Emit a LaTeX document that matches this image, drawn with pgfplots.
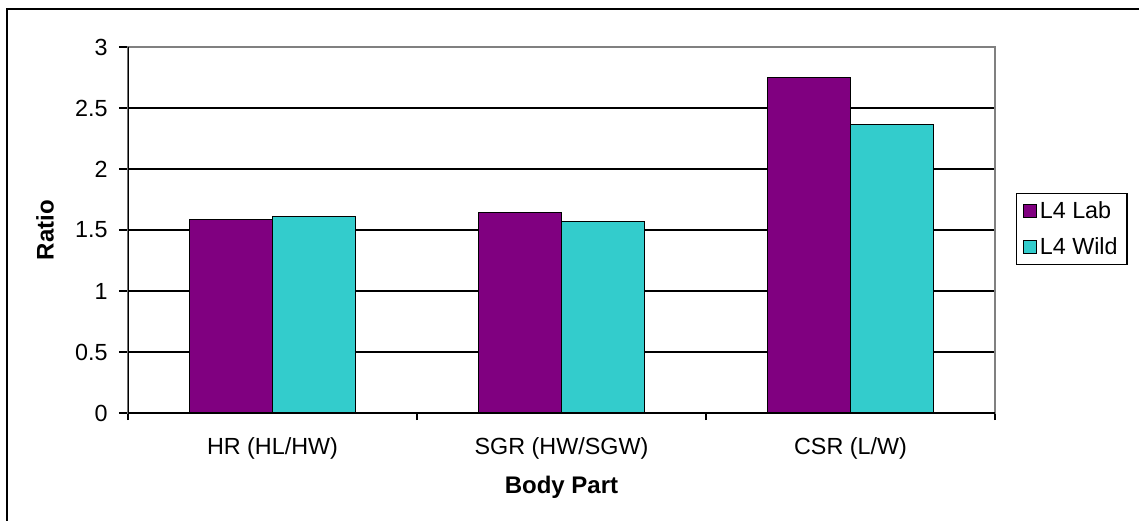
\documentclass[border=0pt]{standalone}
\usepackage{fontspec}
\setmainfont{Liberation Sans}
\usepackage{pgfplots}
\pgfplotsset{compat=1.18}
\definecolor{labpurple}{HTML}{800080}
\definecolor{wildcyan}{HTML}{33CCCC}
\begin{document}
\begin{tikzpicture}
% page size: 1139x521 px, 1px = 0.75pt, axis corner at px (128,413)
\useasboundingbox (-96pt,-81pt) rectangle (758.25pt,309.75pt);
\draw[line width=1.5pt] (-90.75pt,-90pt) -- (-90.75pt,303pt) -- (770pt,303pt);
\begin{axis}[
  at={(0,0)}, anchor=south west,
  scale only axis, width=650.25pt, height=274.5pt,
  ybar=0pt, bar width=0.287,
  ymin=0, ymax=3, ytick={0,0.5,1,1.5,2,2.5,3},
  xmin=-0.5, xmax=2.5,
  xtick={0,1,2},
  xticklabels={HR (HL/HW), SGR (HW/SGW), CSR (L/W)},
  minor xtick={-0.5,0.5,1.5,2.5},
  xtick pos=bottom, ytick pos=left,
  tick align=outside,
  major tick length=6.75pt, minor tick length=5.25pt,
  major x tick style={draw=none},
  tick style={black, line width=0.9pt},
  ymajorgrids, grid style={black, line width=0.9pt},
  axis line style={gray, line width=0.9pt},
  /pgf/number format/assume math mode=true,
  ticklabel style={font=\fontsize{17.5}{20}\selectfont},
  yticklabel style={xshift=-5pt},
  xticklabel style={yshift=-8pt},
  xlabel={Body Part}, ylabel={Ratio},
  label style={font=\fontsize{18}{21}\selectfont\bfseries},
  xlabel style={at={(axis description cs:0.5,0)}, anchor=center, yshift=-55.5pt},
  ylabel style={at={(axis description cs:0,0.5)}, anchor=center, xshift=0pt, yshift=62.25pt},
  legend style={at={(1.0242,0.601)}, anchor=north west, draw=black, line width=0.9pt,
    font=\fontsize{17.5}{20}\selectfont, inner xsep=5pt, inner ysep=4pt,
    row sep=9pt},
  legend cell align=left,
  legend image code/.code={\draw[#1, line width=0.7pt] (0pt,-4.9pt) rectangle (9.75pt,4.9pt);},
]
\addplot[fill=labpurple, draw=black, line width=0.9pt] coordinates {(0,1.585) (1,1.643) (2,2.751)};
\addlegendentry{L4 Lab}
\addplot[fill=wildcyan, draw=black, line width=0.9pt] coordinates {(0,1.61) (1,1.569) (2,2.366)};
\addlegendentry{L4 Wild}
\draw[black, line width=0.9pt] (rel axis cs:0,1) -- (rel axis cs:0,0) -- (rel axis cs:1,0);
\end{axis}
\end{tikzpicture}
\end{document}
